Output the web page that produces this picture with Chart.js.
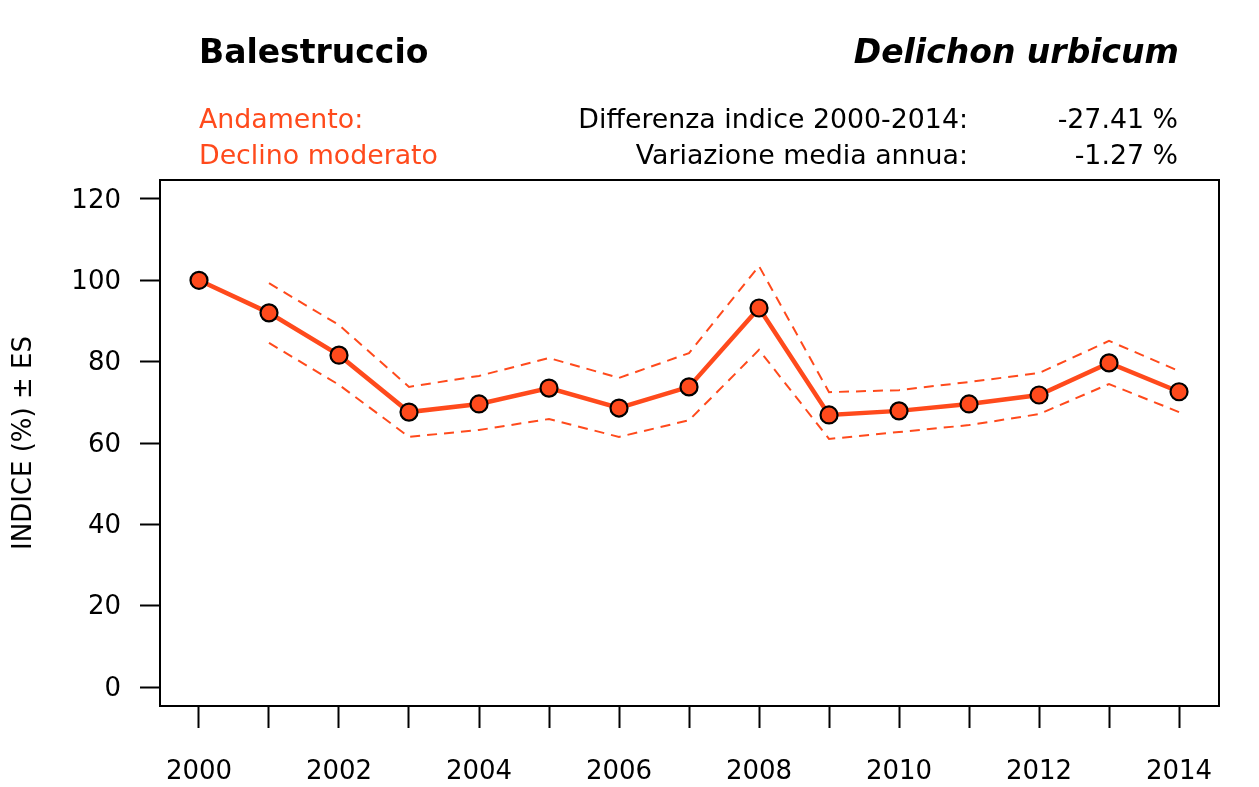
<!DOCTYPE html>
<html><head><meta charset="utf-8">
<script src="https://cdn.jsdelivr.net/npm/chart.js@4"></script>
<style>html,body{margin:0;padding:0;background:#fff}#wrap{width:1259px;height:787px}</style>
</head><body><div id="wrap"><canvas id="c" width="1259" height="787"></canvas></div>
<script>
const years = [2000,2001,2002,2003,2004,2005,2006,2007,2008,2009,2010,2011,2012,2013,2014];
const indexValues = [100,92.0,81.6,67.6,69.6,73.5,68.6,73.8,93.2,66.9,67.9,69.6,71.8,79.7,72.6];
const upperValues = [null,99.3,89.0,73.8,76.5,80.9,76.0,82.1,103.5,72.5,73.0,75.0,77.2,85.1,77.7];
const lowerValues = [null,84.6,74.3,61.5,63.2,65.9,61.5,65.6,82.9,61.0,62.7,64.4,67.1,74.5,67.6];
const yTicks = [0,20,40,60,80,100,120];
const speciesName = 'Balestruccio';
const latinName = 'Delichon urbicum';
const trendLabel = 'Andamento:';
const trendValue = 'Declino moderato';
const statLabels = ['Differenza indice 2000-2014:','Variazione media annua:'];
const statValues = ['-27.41 %','-1.27 %'];

const ORANGE = '#FF4A1C';
const FONT = "'DejaVu Sans', Verdana, sans-serif";
const toXY = arr => years.map((y,i)=>({x:y,y:arr[i]})).filter(p=>p.y!==null);

const header = {
  id:'header',
  afterDraw(chart){
    const ctx = chart.ctx; const a = chart.chartArea;
    ctx.save();
    ctx.strokeStyle='#000'; ctx.lineWidth=2;
    ctx.strokeRect(a.left,a.top,a.right-a.left,a.bottom-a.top);
    ctx.textBaseline='alphabetic';
    ctx.fillStyle='#000';
    ctx.font = "bold 33px "+FONT; ctx.textAlign='left';
    ctx.fillText(speciesName,199,63);
    ctx.font = "italic bold 33px "+FONT; ctx.textAlign='right';
    ctx.fillText(latinName,1179,63);
    ctx.font = "26.8px "+FONT;
    ctx.fillStyle=ORANGE; ctx.textAlign='left';
    ctx.fillText(trendLabel,199,128);
    ctx.fillText(trendValue,199,164);
    ctx.fillStyle='#000'; ctx.textAlign='right';
    ctx.fillText(statLabels[0],968,128);
    ctx.fillText(statLabels[1],968,164);
    ctx.fillText(statValues[0],1178,128);
    ctx.fillText(statValues[1],1178,164);
    ctx.restore();
  }
};

new Chart(document.getElementById('c'),{
  type:'line',
  data:{datasets:[
    {data:toXY(upperValues),borderColor:ORANGE,borderWidth:2,borderDash:[10,7],pointRadius:0,fill:false,tension:0},
    {data:toXY(lowerValues),borderColor:ORANGE,borderWidth:2,borderDash:[10,7],pointRadius:0,fill:false,tension:0},
    {data:toXY(indexValues),borderColor:ORANGE,borderWidth:4.5,pointRadius:8.5,pointBackgroundColor:ORANGE,pointBorderColor:'#000',pointBorderWidth:2.2,fill:false,tension:0}
  ]},
  options:{
    responsive:false,animation:false,
    layout:{padding:{top:180,left:0,right:40,bottom:0}},
    plugins:{legend:{display:false},tooltip:{enabled:false},title:{display:false}},
    scales:{
      x:{type:'linear',min:1999.443,max:2014.571,
        afterBuildTicks(s){s.ticks=years.map(v=>({value:v}));},
        afterFit(s){s.height=81;},
        border:{display:false},
        grid:{display:true,drawOnChartArea:false,drawTicks:true,tickLength:22,tickColor:'#000',tickWidth:2},
        ticks:{autoSkip:false,maxRotation:0,color:'#000',font:{family:FONT,size:26},padding:29,
          callback:(v)=> (v%2===0? String(v):'')}
      },
      y:{type:'linear',min:-4.67,max:124.67,
        afterBuildTicks(s){s.ticks=yTicks.map(v=>({value:v}));},
        afterFit(s){s.width=160;},
        border:{display:false},
        grid:{display:true,drawOnChartArea:false,drawTicks:true,tickLength:20,tickColor:'#000',tickWidth:2},
        ticks:{color:'#000',font:{family:FONT,size:26},padding:19,labelOffset:2},
        title:{display:true,text:'INDICE (%) ± ES',color:'#000',font:{family:FONT,size:26},padding:{top:9,bottom:4}}
      }
    }
  },
  plugins:[header]
});
</script></body></html>
